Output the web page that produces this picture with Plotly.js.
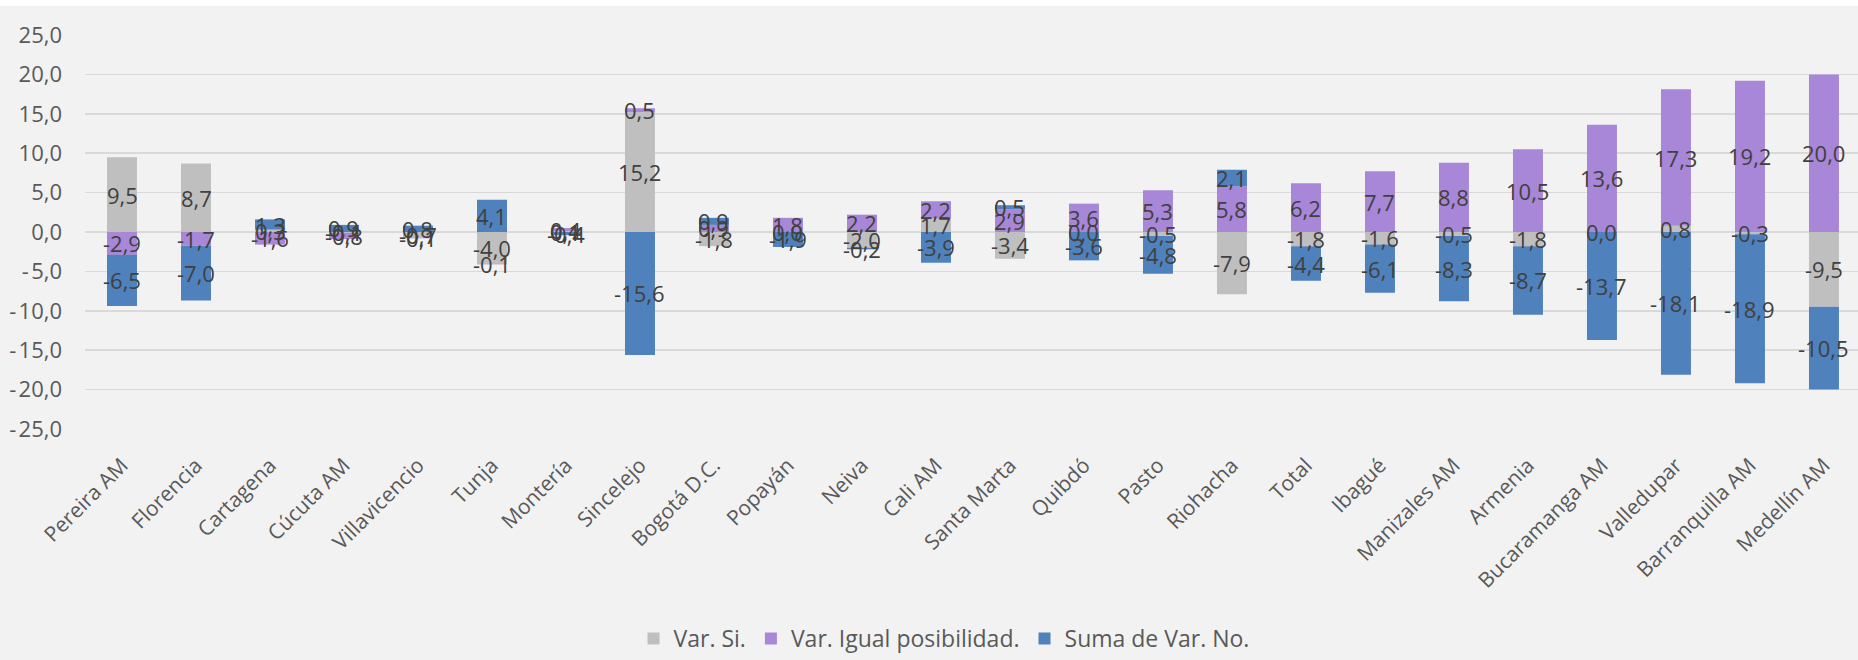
<!DOCTYPE html>
<html>
<head>
<meta charset="utf-8">
<script src="https://cdn.plot.ly/plotly-3.0.1.min.js"></script>
<style>
  html, body { margin: 0; padding: 0; background: #ffffff; }
  #chart { width: 1858px; height: 654px; margin-top: 6px; }
</style>
</head>
<body>
<div id="chart"></div>
<script>
const categories = ["Pereira AM", "Florencia", "Cartagena", "Cúcuta AM", "Villavicencio", "Tunja", "Montería", "Sincelejo", "Bogotá D.C.", "Popayán", "Neiva", "Cali AM", "Santa Marta", "Quibdó", "Pasto", "Riohacha", "Total", "Ibagué", "Manizales AM", "Armenia", "Bucaramanga AM", "Valledupar", "Barranquilla AM", "Medellín AM"];
const varSi = [9.5, 8.7, 0.3, -0.1, -0.7, -4.0, 0.1, 15.2, -1.8, 0.0, -2.0, 1.7, -3.4, 0.0, -0.5, -7.9, -1.8, -1.6, -0.5, -1.8, 0.0, 0.8, -0.3, -9.5];
const varIgual = [-2.9, -1.7, -1.6, -0.8, -0.1, -0.1, 0.4, 0.5, 0.9, 1.8, 2.2, 2.2, 2.9, 3.6, 5.3, 5.8, 6.2, 7.7, 8.8, 10.5, 13.6, 17.3, 19.2, 20.0];
const sumaNo = [-6.5, -7.0, 1.3, 0.9, 0.8, 4.1, -0.4, -15.6, 0.9, -1.9, -0.2, -3.9, 0.5, -3.6, -4.8, 2.1, -4.4, -6.1, -8.3, -8.7, -13.7, -18.1, -18.9, -10.5];
const seriesNames = ["Var. Si.", "Var. Igual posibilidad.", "Suma de Var. No."];
const yTickVals = [-25, -20, -15, -10, -5, 0, 5, 10, 15, 20, 25];
const yTickText = ["-\u200A25,0", "-\u200A20,0", "-\u200A15,0", "-\u200A10,0", "-\u200A5,0", "0,0", "5,0", "10,0", "15,0", "20,0", "25,0"];

const fmt = v => v.toFixed(1).replace('.', ',');
const colors = ['#bfbfbf', '#a886d8', '#4f81bd'];
const seriesValues = [varSi, varIgual, sumaNo];
const labelFont = { family: 'Open Sans, Noto Sans, sans-serif', size: 22, color: '#404040' };

const data = seriesValues.map((vals, i) => ({
  type: 'bar',
  x: categories,
  y: vals,
  name: seriesNames[i],
  marker: { color: colors[i] },
  hoverinfo: 'x+y+name'
}));

// Data labels at the centre of each stacked segment (relative stacking, same as the bars)
const annotations = [];
const posBase = categories.map(() => 0);
const negBase = categories.map(() => 0);
seriesValues.forEach(vals => {
  vals.forEach((v, j) => {
    let center;
    if (v >= 0) { center = posBase[j] + v / 2; posBase[j] += v; }
    else { center = negBase[j] + v / 2; negBase[j] += v; }
    annotations.push({
      x: categories[j], y: center, xref: 'x', yref: 'y',
      text: fmt(v), showarrow: false, font: labelFont,
      xanchor: 'center', yanchor: 'middle'
    });
  });
});

const layout = {
  width: 1858,
  height: 654,
  margin: { l: 85, r: 0, t: 29, b: 225, pad: 0 },
  paper_bgcolor: '#f2f2f2',
  plot_bgcolor: '#f2f2f2',
  barmode: 'relative',
  bargap: 0.595,
  font: { family: 'Open Sans, Noto Sans, sans-serif', color: '#595959' },
  annotations: annotations,
  xaxis: {
    type: 'category',
    range: [-0.5, 23.46],
    tickangle: -45,
    tickfont: { size: 21, color: '#595959' },
    showgrid: false,
    showline: false,
    zeroline: false,
    ticks: '',
    ticklabelstandoff: 19
  },
  yaxis: {
    range: [-25, 25],
    tickvals: yTickVals,
    ticktext: yTickText,
    tickfont: { size: 22, color: '#595959' },
    gridcolor: '#d9d9d9',
    gridwidth: 1.5,
    zeroline: true,
    zerolinecolor: '#d9d9d9',
    zerolinewidth: 1.5,
    showline: false,
    ticks: '',
    ticklabelstandoff: 22
  },
  legend: {
    orientation: 'h',
    x: 0.4845,
    xanchor: 'center',
    y: -0.5325,
    yanchor: 'middle',
    font: { size: 23, color: '#595959' },
    bgcolor: 'rgba(0,0,0,0)'
  },
  showlegend: true
};

Plotly.newPlot('chart', data, layout, { displayModeBar: false, staticPlot: true });
</script>
</body>
</html>
